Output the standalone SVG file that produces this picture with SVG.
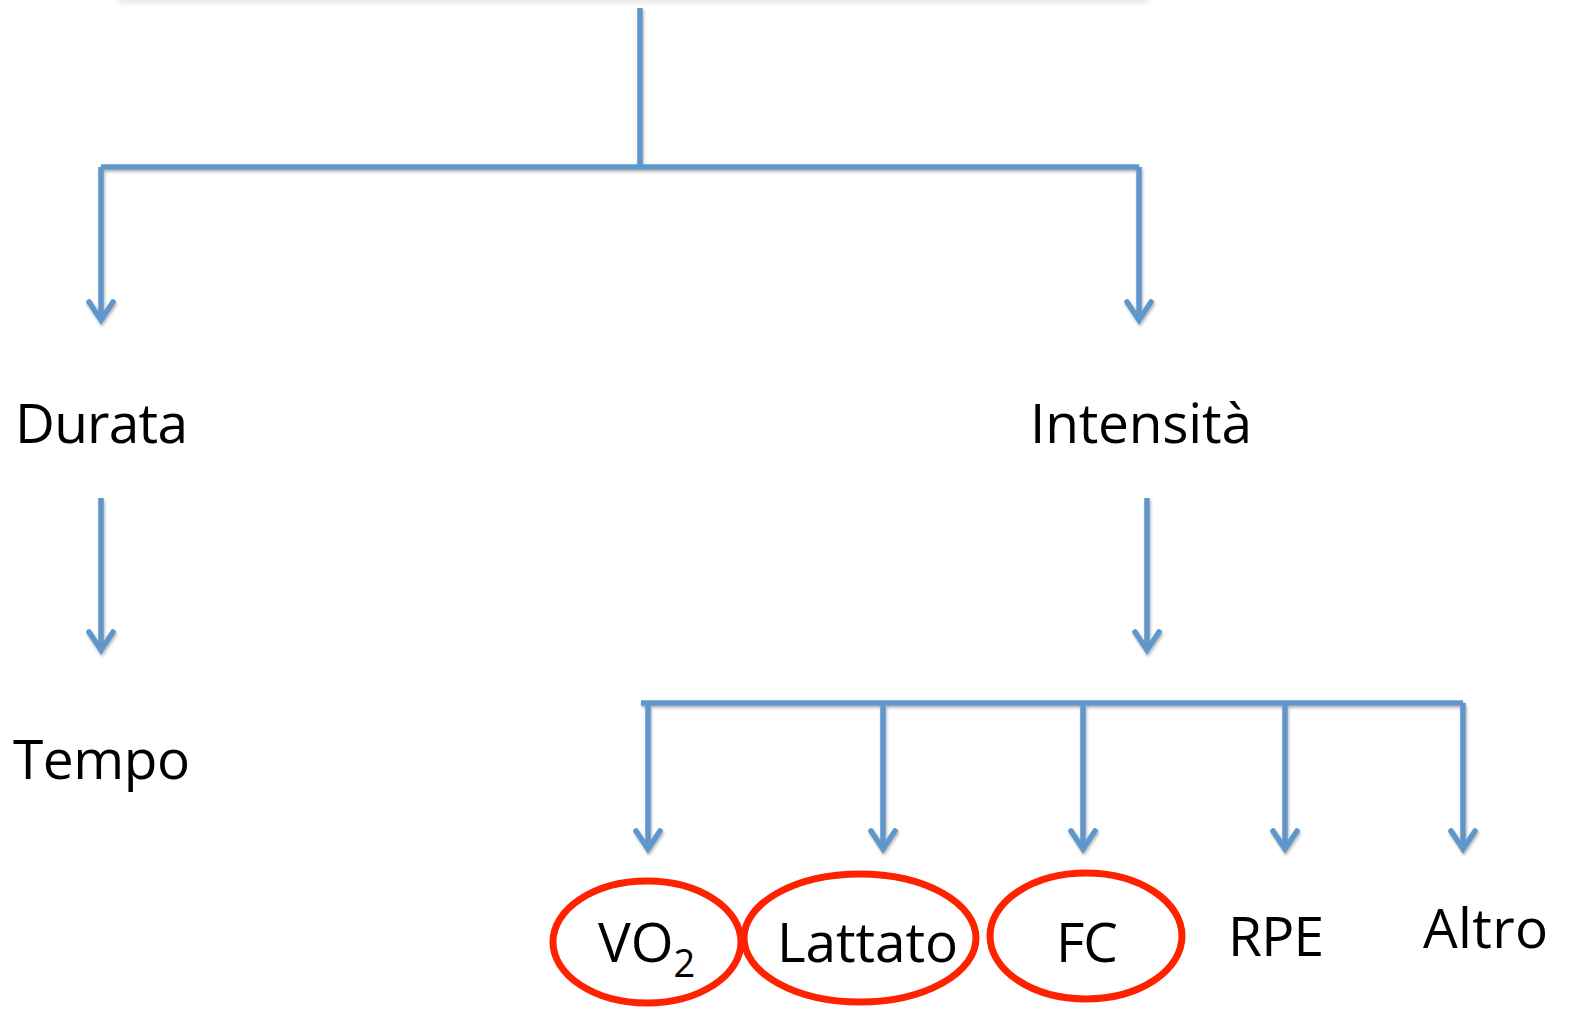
<svg xmlns="http://www.w3.org/2000/svg" width="1574" height="1010" viewBox="0 0 1574 1010">
  <defs>
    <filter id="sh" x="-10%" y="-10%" width="120%" height="130%">
      <feDropShadow dx="1" dy="2" stdDeviation="1.5" flood-color="#000" flood-opacity="0.3"/>
    </filter>
    <filter id="boxsh" x="-5%" y="-50%" width="110%" height="200%">
      <feDropShadow dx="0" dy="2" stdDeviation="3" flood-color="#000" flood-opacity="0.12"/>
    </filter>
    <marker id="arr" markerUnits="userSpaceOnUse" viewBox="-24 -16 30 32" markerWidth="30" markerHeight="32" refX="0" refY="0" orient="auto">
      <path d="M-18,-12 L0,0 L-18,12" fill="none" stroke="#6096ca" stroke-width="5.5" stroke-linecap="round" stroke-linejoin="miter"/>
    </marker>
    <style>
      .c { fill: none; stroke: #6096ca; stroke-width: 5.5; }
      .t { font-family: "Open Sans", "Liberation Sans", sans-serif; font-size: 55px; fill: #000; }
      .o { fill: none; stroke: #ff2200; stroke-width: 7; }
    </style>
  </defs>
  <rect width="1574" height="1010" fill="#ffffff"/>
  <rect x="118" y="-60" width="1030" height="60" fill="#ffffff" filter="url(#boxsh)"/>

  <g id="connectors" filter="url(#sh)">
    <path class="c" d="M640,8 V167"/>
    <path class="c" d="M101,167 H1139"/>
    <path class="c" d="M101,167 V320" marker-end="url(#arr)"/>
    <path class="c" d="M1139,167 V320" marker-end="url(#arr)"/>
    <path class="c" d="M101,498 V650" marker-end="url(#arr)"/>
    <path class="c" d="M1147,498 V650" marker-end="url(#arr)"/>
    <path class="c" d="M641,703 H1463"/>
    <path class="c" d="M648,703 V849" marker-end="url(#arr)"/>
    <path class="c" d="M883,703 V849" marker-end="url(#arr)"/>
    <path class="c" d="M1083,703 V849" marker-end="url(#arr)"/>
    <path class="c" d="M1285,703 V849" marker-end="url(#arr)"/>
    <path class="c" d="M1463,703 V849" marker-end="url(#arr)"/>
  </g>

  <g id="durata"><text class="t" x="15" y="443" textLength="173">Durata</text></g>
  <g id="intensita"><text class="t" x="1030" y="443" textLength="222">Intensità</text></g>
  <g id="tempo"><text class="t" x="13" y="779" textLength="177">Tempo</text></g>

  <g id="vo2">
    <ellipse class="o" cx="647" cy="942" rx="94" ry="61"/>
    <text class="t" x="598" y="962">VO<tspan font-size="38" dy="15">2</tspan></text>
  </g>
  <g id="lattato">
    <ellipse class="o" cx="860" cy="938" rx="116" ry="64"/>
    <text class="t" x="777" y="962" textLength="181">Lattato</text>
  </g>
  <g id="fc">
    <ellipse class="o" cx="1086" cy="936" rx="96" ry="63"/>
    <text class="t" x="1056" y="962" textLength="62">FC</text>
  </g>
  <g id="rpe"><text class="t" x="1228" y="956" textLength="96">RPE</text></g>
  <g id="altro"><text class="t" x="1423" y="948" textLength="125">Altro</text></g>
</svg>
